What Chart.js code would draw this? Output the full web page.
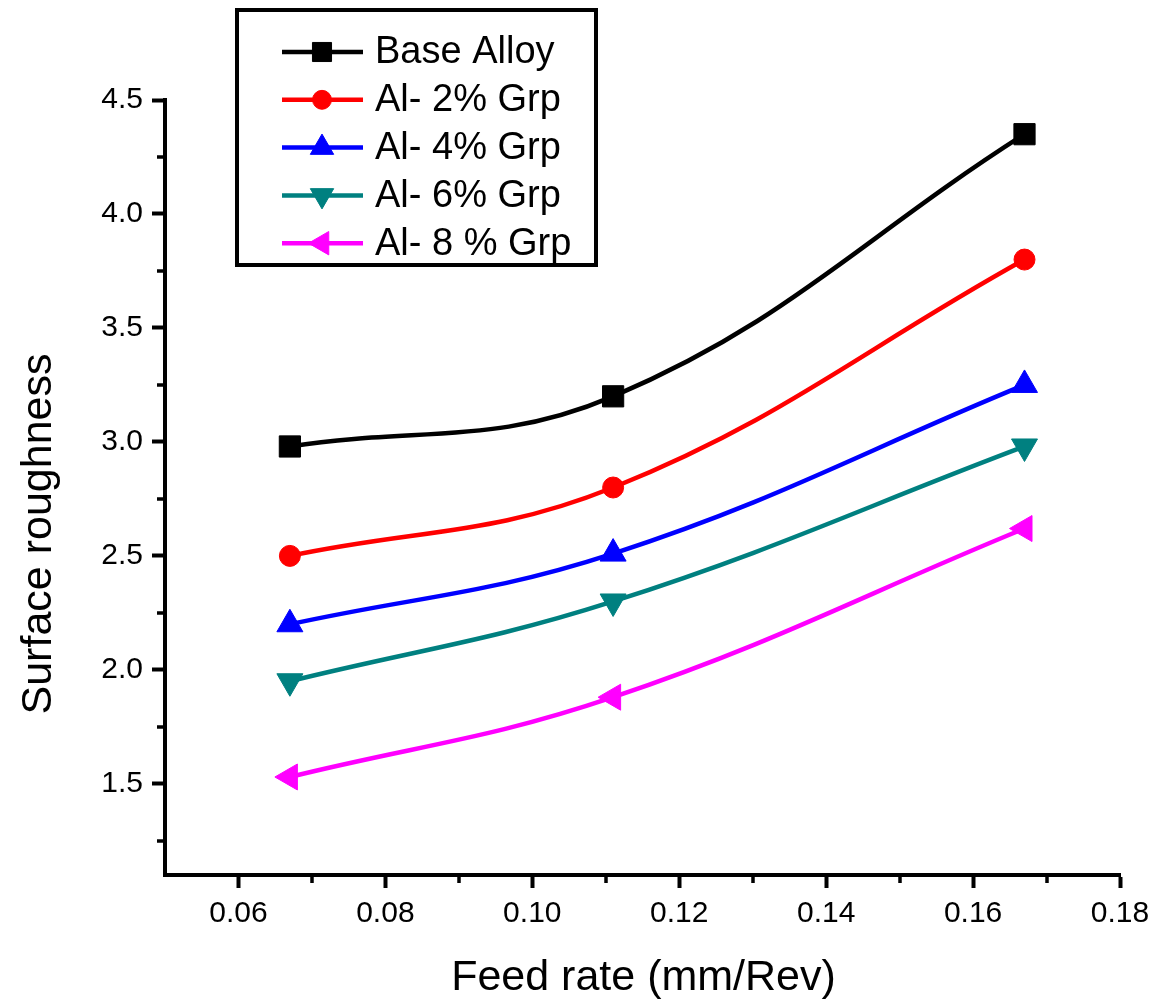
<!DOCTYPE html>
<html>
<head>
<meta charset="utf-8">
<title>Surface roughness vs feed rate</title>
<script src="https://cdn.jsdelivr.net/npm/chart.js@4/dist/chart.umd.min.js"></script>
<style>
  body { margin: 0; background: #fff; }
  #wrap { width: 1158px; height: 1001px; }
</style>
</head>
<body>
<div id="wrap"><canvas id="chart" width="1158" height="1001"></canvas></div>
<script>
// feed rate values (mm/Rev)
const feedRate = [0.067, 0.111, 0.167];

// surface roughness per series
const baseAlloy = [2.98, 3.20, 4.35];
const al2Grp = [2.50, 2.80, 3.80];
const al4Grp = [2.20, 2.51, 3.25];
const al6Grp = [1.95, 2.30, 2.98];
const al8Grp = [1.53, 1.88, 2.62];

const seriesNames = ['Base Alloy', 'Al- 2% Grp', 'Al- 4% Grp', 'Al- 6% Grp', 'Al- 8 % Grp'];

const xTicks = [0.06, 0.08, 0.10, 0.12, 0.14, 0.16, 0.18];
const xMinor = [0.07, 0.09, 0.11, 0.13, 0.15, 0.17];
const yTicks = [1.5, 2.0, 2.5, 3.0, 3.5, 4.0, 4.5];
const yMinor = [1.25, 1.75, 2.25, 2.75, 3.25, 3.75, 4.25];

const xTitle = 'Feed rate (mm/Rev)';
const yTitle = 'Surface roughness';

const FONT = '"Liberation Sans", Arial, sans-serif';

function toPoints(vals) {
    return feedRate.map((x, i) => ({ x: x, y: vals[i] }));
}

function makeSet(label, vals, color, style, radius, rotation) {
    return {
        label: label,
        data: toPoints(vals),
        borderColor: color,
        backgroundColor: color,
        borderWidth: 4.5,
        tension: 0.4,
        pointStyle: style,
        pointRadius: radius,
        pointHoverRadius: radius,
        pointRotation: rotation,
        pointBorderWidth: 1,
        pointBackgroundColor: color,
        pointBorderColor: color
    };
}

const datasets = [
    makeSet(seriesNames[0], baseAlloy, '#000000', 'rect', 15, 0),
    makeSet(seriesNames[1], al2Grp, '#ff0000', 'circle', 10.5, 0),
    makeSet(seriesNames[2], al4Grp, '#0000ff', 'triangle', 15, 0),
    makeSet(seriesNames[3], al6Grp, '#008080', 'triangle', 15, 180),
    makeSet(seriesNames[4], al8Grp, '#ff00ff', 'triangle', 15, 270)
];

// minor ticks, axis titles and boxed legend
const extras = {
    id: 'extras',
    afterDraw(chart) {
        const ctx = chart.ctx;
        const xs = chart.scales.x;
        const ys = chart.scales.y;
        const area = chart.chartArea;

        ctx.save();
        ctx.strokeStyle = '#000';
        ctx.lineWidth = 3.5;
        xMinor.forEach(v => {
            const px = Math.round(xs.getPixelForValue(v));
            ctx.beginPath();
            ctx.moveTo(px, area.bottom);
            ctx.lineTo(px, area.bottom + 8);
            ctx.stroke();
        });
        yMinor.forEach(v => {
            const py = Math.round(ys.getPixelForValue(v));
            ctx.beginPath();
            ctx.moveTo(area.left - 8, py);
            ctx.lineTo(area.left, py);
            ctx.stroke();
        });

        // titles
        ctx.fillStyle = '#000';
        ctx.font = '43px ' + FONT;
        ctx.textAlign = 'center';
        ctx.textBaseline = 'alphabetic';
        ctx.fillText(xTitle, (area.left + area.right) / 2 + 1, 990);
        ctx.save();
        ctx.translate(51, 534);
        ctx.rotate(-Math.PI / 2);
        ctx.fillText(yTitle, 0, 0);
        ctx.restore();

        // legend box
        ctx.lineWidth = 4;
        ctx.strokeStyle = '#000';
        ctx.strokeRect(237, 10, 359, 255);
        ctx.font = '38px ' + FONT;
        ctx.textAlign = 'left';
        ctx.textBaseline = 'middle';
        chart.data.datasets.forEach((ds, i) => {
            const y = 52 + i * 47.8;
            ctx.strokeStyle = ds.borderColor;
            ctx.lineWidth = 4.5;
            ctx.beginPath();
            ctx.moveTo(282, y);
            ctx.lineTo(363, y);
            ctx.stroke();
            ctx.fillStyle = ds.pointBackgroundColor;
            ctx.strokeStyle = ds.pointBorderColor;
            ctx.lineWidth = 1;
            Chart.helpers.drawPoint(ctx, {
                pointStyle: ds.pointStyle,
                radius: ds.pointRadius * 0.9,
                rotation: ds.pointRotation,
                borderWidth: 1
            }, 322, y);
            ctx.fillStyle = '#000';
            ctx.fillText(ds.label, 375, y + 1);
        });
        ctx.restore();
    }
};

new Chart(document.getElementById('chart'), {
    type: 'line',
    data: { datasets: datasets },
    plugins: [extras],
    options: {
        responsive: false,
        animation: false,
        events: [],
        layout: { padding: { top: 100, right: 38, left: 0, bottom: 0 } },
        plugins: {
            legend: { display: false },
            tooltip: { enabled: false }
        },
        scales: {
            x: {
                type: 'linear',
                min: 0.05,
                max: 0.18,
                afterBuildTicks: s => { s.ticks = xTicks.map(v => ({ value: v })); },
                afterFit: s => { s.height = 126; },
                border: { display: true, color: '#000', width: 4 },
                grid: { drawOnChartArea: false, drawTicks: true, tickLength: 13, tickWidth: 4, tickColor: '#000' },
                ticks: {
                    color: '#000',
                    padding: 8,
                    maxRotation: 0,
                    font: { family: FONT, size: 30 },
                    callback: v => Number(v).toFixed(2)
                }
            },
            y: {
                type: 'linear',
                min: 1.1,
                max: 4.5,
                afterBuildTicks: s => { s.ticks = yTicks.map(v => ({ value: v })); },
                afterFit: s => { s.width = 165; },
                border: { display: true, color: '#000', width: 4 },
                grid: { drawOnChartArea: false, drawTicks: true, tickLength: 13, tickWidth: 4, tickColor: '#000' },
                ticks: {
                    color: '#000',
                    padding: 9,
                    font: { family: FONT, size: 30 },
                    callback: v => Number(v).toFixed(1)
                }
            }
        }
    }
});
</script>
</body>
</html>
